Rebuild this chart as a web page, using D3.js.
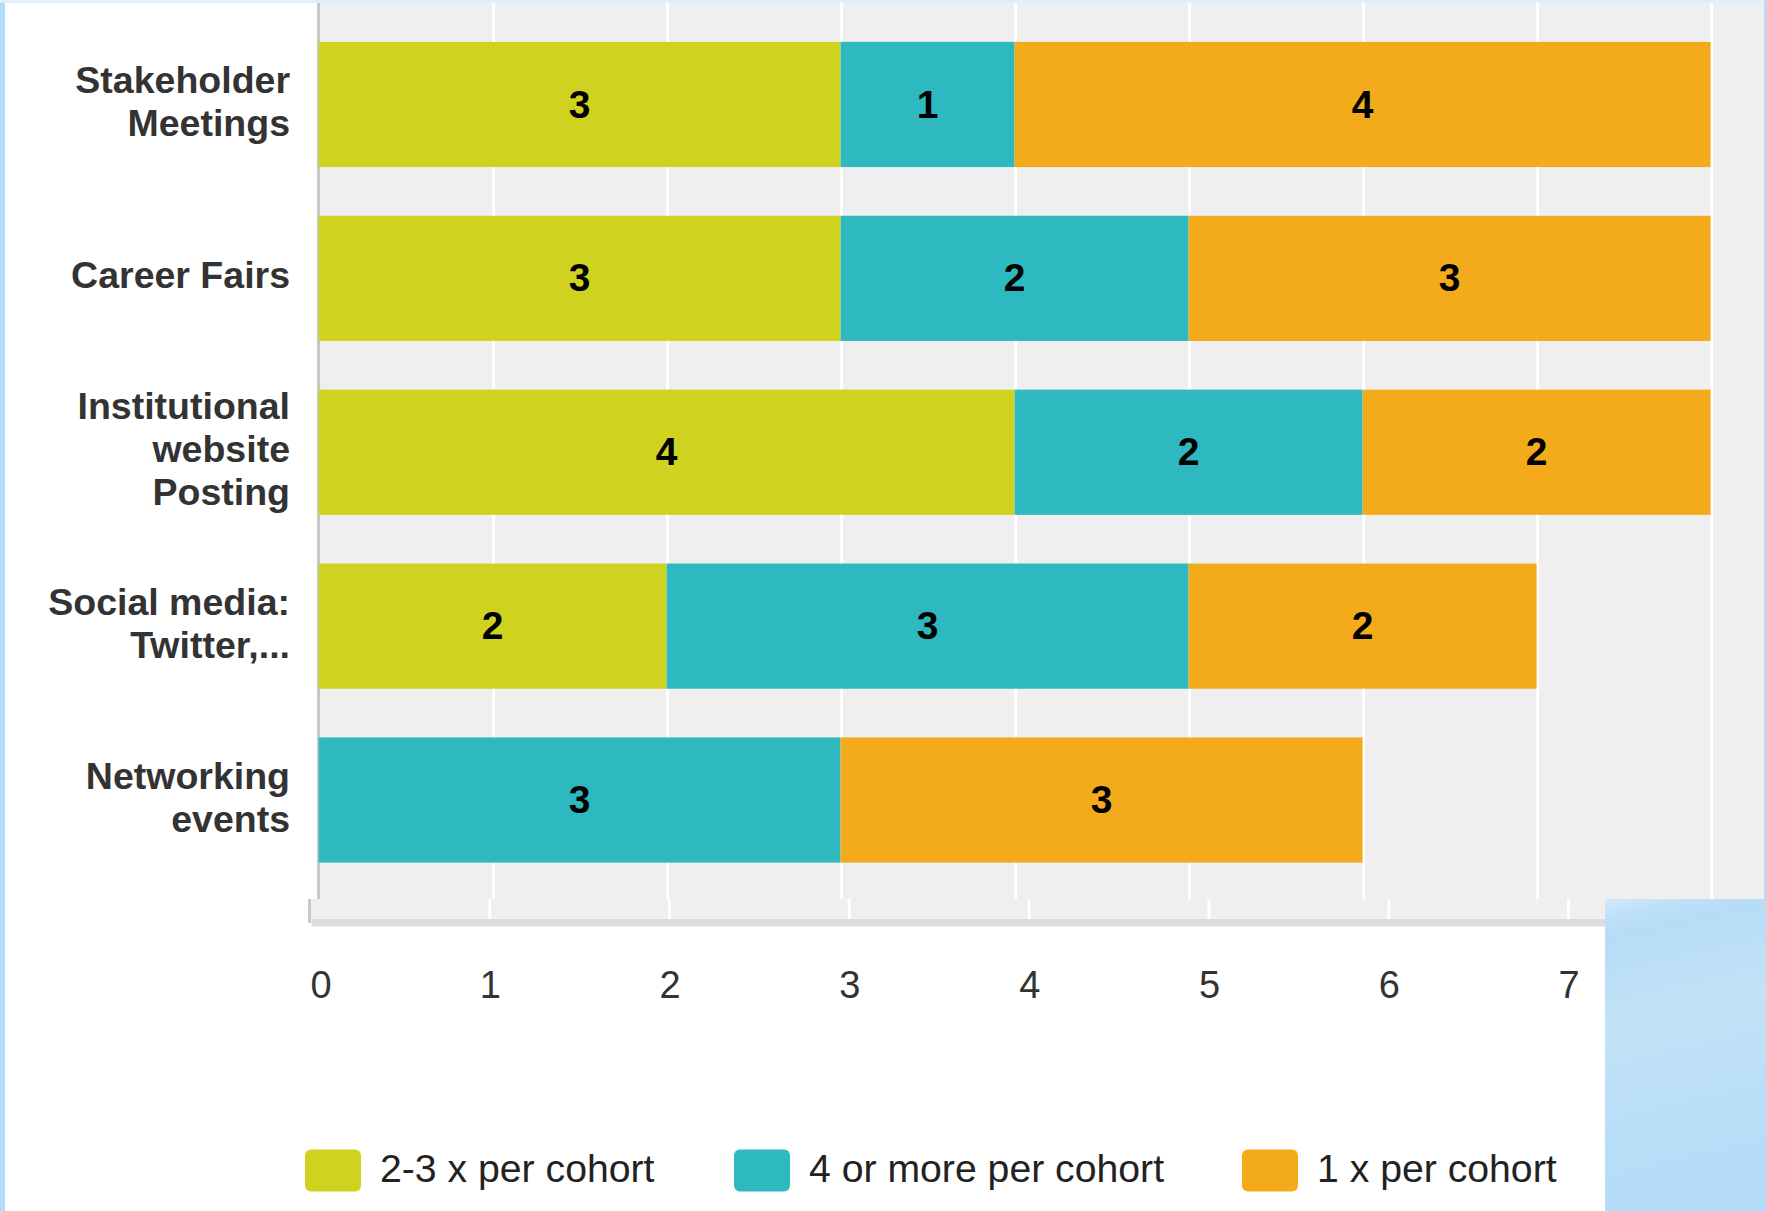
<!DOCTYPE html>
<html>
<head>
<meta charset="utf-8">
<script src="https://cdn.jsdelivr.net/npm/d3@7"></script>
<style>
  html, body { margin: 0; padding: 0; background: #fff; }
  svg { display: block; font-family: "Liberation Sans", Arial, Helvetica, sans-serif; }
</style>
</head>
<body>
<svg id="chart" width="1766" height="1211"></svg>
<script>
// Outreach channels and how often each is used per cohort
const categories = [
  "Stakeholder Meetings",
  "Career Fairs",
  "Institutional website Posting",
  "Social media: Twitter,...",
  "Networking events"
];
const seriesNames = ["2-3 x per cohort", "4 or more per cohort", "1 x per cohort"];
const twoToThree = [3, 3, 4, 2, 0];
const fourOrMore = [1, 2, 2, 3, 3];
const oncePer    = [4, 3, 2, 2, 3];
const seriesColors = ["#cfd320", "#2eb8bf", "#f3ab1c"];
const xTickValues = [0, 1, 2, 3, 4, 5, 6, 7];

const svg = d3.select("#chart");
const W = 1766, H = 1211;

// frame
svg.append("rect").attr("x", 0).attr("y", 0).attr("width", W).attr("height", H).attr("fill", "#fff");

// plot geometry
const plotLeft = 318.6, plotTop = 3, plotBottom = 899, plotRight = 1764;
const x = d3.scaleLinear().domain([0, 8]).range([plotLeft, plotLeft + 8 * 174]);
const y = d3.scaleBand().domain(categories).range([plotTop + 1.5, plotBottom + 1]).paddingInner(0.28).paddingOuter(0.215);

// stacked rows
const rows = categories.map((c, i) => ({
  category: c,
  [seriesNames[0]]: twoToThree[i],
  [seriesNames[1]]: fourOrMore[i],
  [seriesNames[2]]: oncePer[i]
}));
const stacked = d3.stack().keys(seriesNames)(rows);

// plot background + grid
svg.append("rect")
  .attr("x", plotLeft).attr("y", plotTop)
  .attr("width", plotRight - plotLeft).attr("height", plotBottom - plotTop)
  .attr("fill", "#efefef");

svg.append("g").selectAll("line")
  .data(d3.range(1, 9))
  .join("line")
  .attr("x1", d => x(d) + 1).attr("x2", d => x(d) + 1)
  .attr("y1", plotTop).attr("y2", plotBottom)
  .attr("stroke", "#ffffff").attr("stroke-width", 3);

svg.append("line")
  .attr("x1", plotLeft).attr("x2", plotLeft)
  .attr("y1", plotTop).attr("y2", plotBottom)
  .attr("stroke", "#c6c6c6").attr("stroke-width", 3);

// bars
const layers = svg.append("g").selectAll("g")
  .data(stacked)
  .join("g")
  .attr("fill", (d, i) => seriesColors[i]);

layers.selectAll("rect")
  .data(d => d.filter(s => s[1] - s[0] > 0))
  .join("rect")
  .attr("x", d => x(d[0]))
  .attr("y", d => y(d.data.category))
  .attr("width", d => x(d[1]) - x(d[0]))
  .attr("height", y.bandwidth());

// value labels
const valueLabels = svg.append("g")
  .attr("font-weight", "bold")
  .attr("font-size", 39)
  .attr("fill", "#000")
  .attr("text-anchor", "middle");

stacked.forEach(layer => {
  layer.filter(s => s[1] - s[0] > 0).forEach(s => {
    valueLabels.append("text")
      .attr("x", (x(s[0]) + x(s[1])) / 2)
      .attr("y", y(s.data.category) + y.bandwidth() / 2 - 1)
      .attr("dy", "0.36em")
      .text(s[1] - s[0]);
  });
});

// category labels, wrapped to a fixed width
const catG = svg.append("g")
  .attr("font-weight", "bold")
  .attr("font-size", 37.5)
  .attr("fill", "#333")
  .attr("text-anchor", "end");

const lineH = 43, labelRight = 290, maxLabelW = 262;
categories.forEach(c => {
  const t = catG.append("text").attr("x", labelRight);
  const words = c.split(" ");
  const lines = [];
  let cur = [];
  const probe = t.append("tspan");
  words.forEach(w => {
    const trial = cur.concat([w]).join(" ");
    probe.text(trial);
    if (probe.node().getComputedTextLength() > maxLabelW && cur.length) {
      lines.push(cur.join(" "));
      cur = [w];
    } else {
      cur.push(w);
    }
  });
  lines.push(cur.join(" "));
  probe.remove();
  const cy = y(c) + y.bandwidth() / 2 - 3;
  lines.forEach((ln, i) => {
    t.append("tspan")
      .attr("x", labelRight)
      .attr("y", cy + (i - (lines.length - 1) / 2) * lineH)
      .attr("dy", "0.35em")
      .text(ln);
  });
});

// x axis strip
const x2 = d3.scaleLinear().domain([0, 8]).range([310, 310 + 8 * 179.8]);
const stripTop = 899, stripBottom = 919;
svg.append("rect")
  .attr("x", 309).attr("y", stripTop)
  .attr("width", 1605 - 309).attr("height", stripBottom - stripTop)
  .attr("fill", "#efefef");
svg.append("g").selectAll("line")
  .data(d3.range(1, 8))
  .join("line")
  .attr("x1", d => x2(d)).attr("x2", d => x2(d))
  .attr("y1", stripTop).attr("y2", stripBottom)
  .attr("stroke", "#fff").attr("stroke-width", 3);
svg.append("rect")
  .attr("x", 311.5).attr("y", stripBottom)
  .attr("width", 1605 - 311.5).attr("height", 7.5)
  .attr("fill", "#dcdcdc");
svg.append("line")
  .attr("x1", 309.5).attr("x2", 309.5)
  .attr("y1", stripTop).attr("y2", 923)
  .attr("stroke", "#c8c8c8").attr("stroke-width", 3);

const xAxis = d3.axisBottom(x2)
  .tickValues(xTickValues)
  .tickFormat(d3.format("d"))
  .tickSize(0)
  .tickPadding(45.5);

const axisG = svg.append("g")
  .attr("transform", "translate(0,926)")
  .call(xAxis);
axisG.select(".domain").remove();
axisG.selectAll("text")
  .attr("font-family", "'Liberation Sans', Arial, sans-serif")
  .attr("font-size", 38)
  .attr("fill", "#333")
  .attr("text-anchor", (d, i) => i === 0 ? "start" : "middle");

// legend
const legendX = [305, 734, 1242];
const legend = svg.append("g");
seriesNames.forEach((name, i) => {
  legend.append("rect")
    .attr("x", legendX[i]).attr("y", 1149.5)
    .attr("width", 56).attr("height", 42)
    .attr("rx", 6).attr("ry", 6)
    .attr("fill", seriesColors[i]);
  legend.append("text")
    .attr("x", legendX[i] + 75)
    .attr("y", 1181.5)
    .attr("font-size", 39.2)
    .attr("fill", "#222")
    .text(name);
});

// surrounding light-blue page frame
const defs = svg.append("defs");
const grad = defs.append("linearGradient")
  .attr("id", "cornerBlue").attr("x1", 0).attr("y1", 0).attr("x2", 0.12).attr("y2", 1);
[["0%", "#d2eaf9"], ["6%", "#bfe0f7"], ["12%", "#b6dcf6"], ["40%", "#c2e2f8"], ["100%", "#b3dbf7"]]
  .forEach(([o, c]) => grad.append("stop").attr("offset", o).attr("stop-color", c));

svg.append("rect")
  .attr("x", 1605).attr("y", 899)
  .attr("width", W - 1605).attr("height", H - 899)
  .attr("fill", "url(#cornerBlue)");

svg.append("rect").attr("x", 0).attr("y", 0).attr("width", 5).attr("height", H).attr("fill", "#b3dbfa");
svg.append("rect").attr("x", 0).attr("y", 0).attr("width", W).attr("height", 3).attr("fill", "#e0effb");
svg.append("rect").attr("x", 1764).attr("y", 0).attr("width", 2).attr("height", 899).attr("fill", "#b8dcf7");
</script>
</body>
</html>
